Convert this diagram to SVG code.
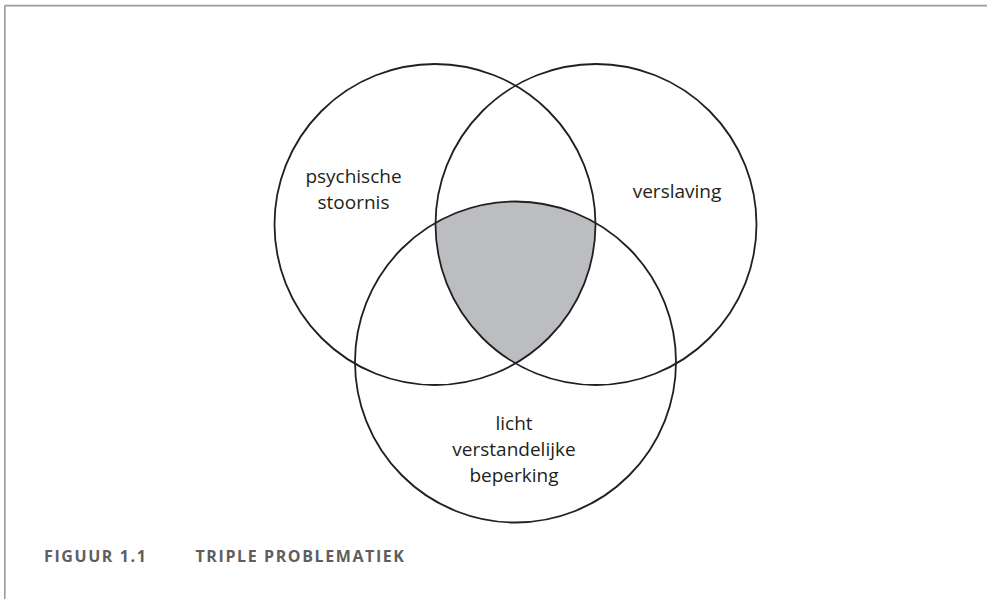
<svg xmlns="http://www.w3.org/2000/svg" width="987" height="599" viewBox="0 0 987 599">
  <style>
    .frame { stroke: #9a9a9a; stroke-width: 1.6; fill: none; }
    .circle { fill: none; stroke: #231f20; stroke-width: 1.8; }
    .overlap { fill: #bcbdc0; stroke: none; }
    .label { font-family: "Open Sans", "Liberation Sans", sans-serif; font-size: 19px; fill: #231f20; text-anchor: middle; }
    .caption { font-family: "Open Sans", "Liberation Sans", sans-serif; font-size: 16px; font-weight: bold; fill: #5e5e5e; letter-spacing: 1.6px; }
  </style>
  <rect width="987" height="599" fill="#ffffff"/>
  <g id="frame">
    <line class="frame" x1="4.8" y1="5.6" x2="987" y2="5.6"/>
    <line class="frame" x1="4.8" y1="5.6" x2="4.8" y2="599"/>
  </g>
  <g id="overlap">
    <path class="overlap" d="M 435.51,222.86 A 160.5 160.5 0 0 1 595.49,222.86 A 160.5 160.5 0 0 1 515.5,363.35 A 160.5 160.5 0 0 1 435.51,222.86 Z"/>
  </g>
  <g id="psychische-stoornis">
    <circle class="circle" cx="435" cy="224.5" r="160.5"/>
    <text class="label" x="353.5" y="183">psychische</text>
    <text class="label" x="353.5" y="209">stoornis</text>
  </g>
  <g id="verslaving">
    <circle class="circle" cx="596" cy="224.5" r="160.5"/>
    <text class="label" x="677" y="198">verslaving</text>
  </g>
  <g id="licht-verstandelijke-beperking">
    <circle class="circle" cx="515.5" cy="362" r="160.5"/>
    <text class="label" x="514" y="430">licht</text>
    <text class="label" x="514" y="456">verstandelijke</text>
    <text class="label" x="514" y="481.5">beperking</text>
  </g>
  <g id="connectors"></g>
  <g id="caption">
    <text class="caption" x="44" y="562">FIGUUR 1.1</text>
    <text class="caption" x="195.5" y="562">TRIPLE PROBLEMATIEK</text>
  </g>
</svg>
